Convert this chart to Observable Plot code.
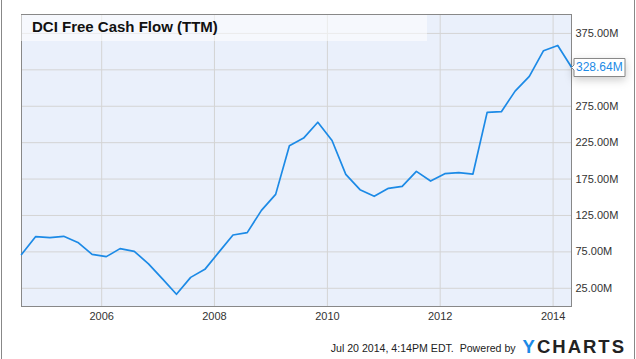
<!DOCTYPE html>
<html><head><meta charset="utf-8">
<script src="https://cdn.jsdelivr.net/npm/d3@7"></script>
<script src="https://cdn.jsdelivr.net/npm/@observablehq/plot@0.6"></script>
<style>
body{margin:0;background:#fff;}
#wrap{position:relative;width:636px;height:359px;overflow:hidden;font-family:"Liberation Sans",Arial,sans-serif;}
#chart svg{display:block;}
#titlebox{position:absolute;left:21px;top:15px;width:406px;height:26px;background:rgba(255,255,255,0.55);}
#title{position:absolute;left:32px;top:18px;font-size:15px;font-weight:bold;color:#111;}
#footer{position:absolute;right:10px;top:336px;white-space:nowrap;color:#222;font-size:10.6px;}
#footer .logo{font-size:18.5px;font-weight:900;letter-spacing:2px;color:#222;vertical-align:-1px;margin-left:4px;}
#footer .logo span{color:#1c8ae6;}
.edge{position:absolute;top:0;width:1px;height:359px;background:#888;}
g[aria-label="tip"] text, g[aria-label="tip"] tspan{fill:#1c8ae6 !important;}
</style></head><body>
<div id="wrap">
<div id="chart"></div>
<div id="titlebox"></div>
<div id="title">DCI Free Cash Flow (TTM)</div>
<div id="footer">Jul 20 2014, 4:14PM EDT.&nbsp; Powered by <span class="logo"><span>Y</span>CHARTS</span></div>
<div class="edge" style="left:1px"></div>
<div class="edge" style="left:634px"></div>
</div>
<script>
const dates = [
  "2004-07-31","2004-10-31",
  "2005-01-31","2005-04-30","2005-07-31","2005-10-31",
  "2006-01-31","2006-04-30","2006-07-31","2006-10-31",
  "2007-01-31","2007-04-30","2007-07-31","2007-10-31",
  "2008-01-31","2008-04-30","2008-07-31","2008-10-31",
  "2009-01-31","2009-04-30","2009-07-31","2009-10-31",
  "2010-01-31","2010-04-30","2010-07-31","2010-10-31",
  "2011-01-31","2011-04-30","2011-07-31","2011-10-31",
  "2012-01-31","2012-04-30","2012-07-31","2012-10-31",
  "2013-01-31","2013-04-30","2013-07-31","2013-10-31",
  "2014-01-31","2014-04-30"
];
const fcf = [71.3, 96, 94.6, 96.4, 88, 71.7, 68.5, 79.5, 75.8, 58.5,
  37.6, 16.8, 40, 51, 75, 98.2, 101.4, 132, 154, 220.8,
  231.3, 253, 228, 181.5, 160.4, 151.3, 162.3, 165, 185.6, 172.3,
  182.4, 183.8, 181.9, 266.6, 267.5, 295.8, 316, 351.3, 358.5, 328.64];
const xTickLabels = ["2006","2008","2010","2012","2014"];
const yGrid = [25, 75, 125, 175, 225, 275, 325, 375];
const yLabels = [25, 75, 125, 175, 225, 275, 375];

const data = dates.map((d, i) => ({date: new Date(d), value: fcf[i]}));
const xTicks = xTickLabels.map(y => new Date(y + "-01-01"));
const last = [data[data.length - 1]];

const chart = Plot.plot({
  width: 636,
  height: 359,
  marginLeft: 21,
  marginRight: 65,
  marginTop: 14,
  marginBottom: 53,
  style: {background: "transparent", fontFamily: "'Liberation Sans', Arial, sans-serif", fontSize: "11px", color: "#333"},
  x: {type: "utc", domain: [data[0].date, data[data.length - 1].date], label: null},
  y: {domain: [0, 401], label: null},
  marks: [
    Plot.frame({fill: "#eaf0fb", stroke: null}),
    Plot.gridX(xTicks, {stroke: "#d4d4d4", strokeOpacity: 1}),
    Plot.gridY(yGrid, {stroke: "#d4d4d4", strokeOpacity: 1}),
    Plot.frame({stroke: "#888"}),
    Plot.axisX(xTicks, {tickSize: 0, tickPadding: 6, tickFormat: d3.utcFormat("%Y"), color: "#333", fontSize: 11, label: null}),
    Plot.axisY(yLabels, {anchor: "right", tickSize: 0, tickPadding: 4, tickFormat: d => d.toFixed(2) + "M", color: "#333", fontSize: 11, label: null}),
    Plot.line(data, {x: "date", y: "value", stroke: "#1c8ae6", strokeWidth: 1.7}),
    Plot.tip(last, {x: "date", y: "value", title: d => d.value.toFixed(2) + "M", anchor: "left",
      fill: "white", stroke: "#888", pointerSize: 5, textPadding: 2, fontSize: 12})
  ]
});
document.getElementById("chart").appendChild(chart);
</script>
</body></html>
